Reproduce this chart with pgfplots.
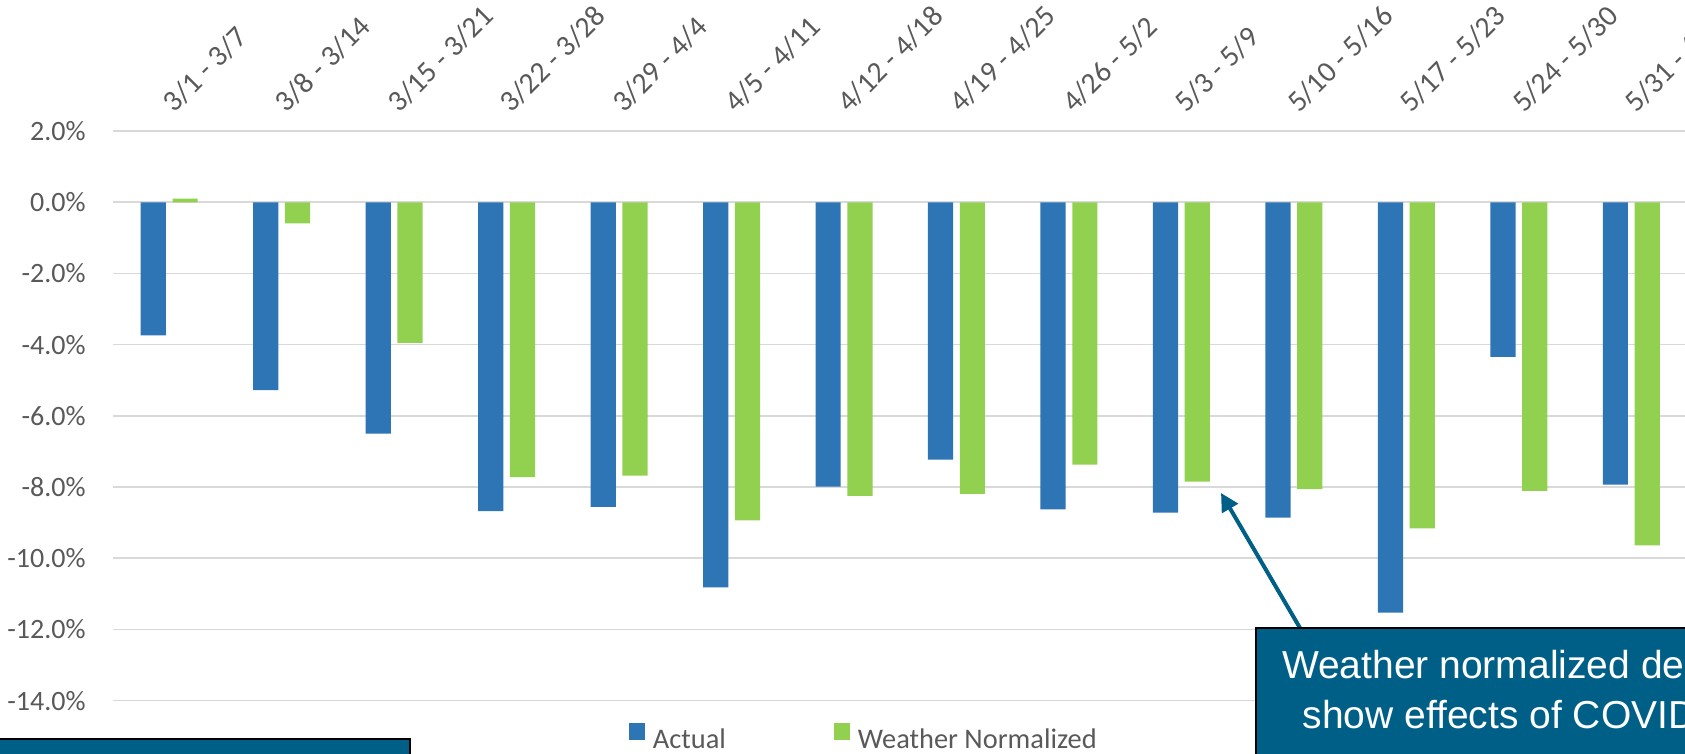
\documentclass[border=0pt]{standalone}
\usepackage{fontspec}
\setmainfont{Carlito}
\newfontfamily\boxfont{Liberation Sans}
\usepackage{pgfplots}
\pgfplotsset{compat=1.18}
\usetikzlibrary{arrows.meta}
\definecolor{actualblue}{HTML}{2E75B6}
\definecolor{wngreen}{HTML}{92D050}
\definecolor{gridgray}{HTML}{D9D9D9}
\definecolor{txtgray}{HTML}{595959}
\definecolor{boxteal}{HTML}{005F87}
\begin{document}
\begin{tikzpicture}
\useasboundingbox (0,0) rectangle (842.5pt,377pt);
\clip (0,0) rectangle (842.5pt,377pt);
\begin{axis}[
  at={(56.5pt,26.7pt)}, anchor=south west,
  scale only axis, width=787.25pt, height=284.75pt,
  xmin=-0.5, xmax=13.5, ymin=-14, ymax=2,
  axis line style={draw=none},
  tick style={draw=none},
  ymajorgrids, major grid style={gridgray, line width=0.8pt},
  ytick={-14,-12,...,2},
  yticklabels={-14.0\%,-12.0\%,-10.0\%,-8.0\%,-6.0\%,-4.0\%,-2.0\%,0.0\%,2.0\%},
  xtick={0,...,13},
  xticklabels={3/1 - 3/7,3/8 - 3/14,3/15 - 3/21,3/22 - 3/28,3/29 - 4/4,4/5 - 4/11,4/12 - 4/18,4/19 - 4/25,4/26 - 5/2,5/3 - 5/9,5/10 - 5/16,5/17 - 5/23,5/24 - 5/30,5/31 - 6/6},
  xticklabel pos=upper,
  yticklabel style={font=\fontsize{14}{16}\selectfont, text=txtgray, anchor=east, inner sep=0pt, xshift=-13.5pt},
  xticklabel style={font=\fontsize{14.8}{16}\selectfont, text=txtgray, xshift=2.5pt, yshift=8.5pt, rotate=45, anchor=base west, inner sep=0pt},
  legend columns=2,
  legend style={draw=none, fill=none, at={(0.3274,-0.0639)}, anchor=west,
    inner sep=0pt, font=\fontsize{14.2}{16}\selectfont, text=txtgray,
    nodes={inner sep=0pt, text=txtgray},
    /tikz/every odd column/.append style={column sep=4pt},
    /tikz/every even column/.append style={column sep=54pt}},
]
\addplot[ybar, bar width=12.6pt, bar shift=-7.95pt, fill=actualblue, draw=none,
  legend image code/.code={\fill[actualblue] (0pt,0pt) rectangle (8pt,8.5pt);}]
  coordinates {(0,-3.74) (1,-5.28) (2,-6.50) (3,-8.68) (4,-8.56) (5,-10.82) (6,-7.99)
               (7,-7.23) (8,-8.63) (9,-8.72) (10,-8.86) (11,-11.53) (12,-4.34) (13,-7.93)};
\addlegendentry{Actual}
\addplot[ybar, bar width=12.6pt, bar shift=7.95pt, fill=wngreen, draw=none,
  legend image code/.code={\fill[wngreen] (0pt,0pt) rectangle (8pt,8.5pt);}]
  coordinates {(0,0.10) (1,-0.59) (2,-3.95) (3,-7.72) (4,-7.68) (5,-8.94) (6,-8.25)
               (7,-8.19) (8,-7.37) (9,-7.85) (10,-8.06) (11,-9.16) (12,-8.11) (13,-9.64)};
\addlegendentry{Weather Normalized}
\end{axis}
% annotation box (right)
\fill[black!35] (629.5pt,-30pt) rectangle (900pt,61pt);
\draw[boxteal, line width=2pt, -{Triangle[length=9pt,width=9pt]}] (650pt,63pt) -- (610.5pt,130.5pt);
\draw[black, line width=1pt, fill=boxteal] (627.85pt,-30pt) rectangle (900pt,62.85pt);
\node[anchor=base west, inner sep=0pt, text=white, font=\boxfont\fontsize{19.5}{24}\selectfont] at (640.85pt,37.5pt) {Weather normalized demand};
\node[anchor=base west, inner sep=0pt, text=white, font=\boxfont\fontsize{19.5}{24}\selectfont] at (651.15pt,12.5pt) {show effects of COVID-19};
% annotation box (left)
\draw[black, line width=1pt, fill=boxteal] (-10pt,-30pt) rectangle (205pt,7.5pt);
\end{tikzpicture}
\end{document}
